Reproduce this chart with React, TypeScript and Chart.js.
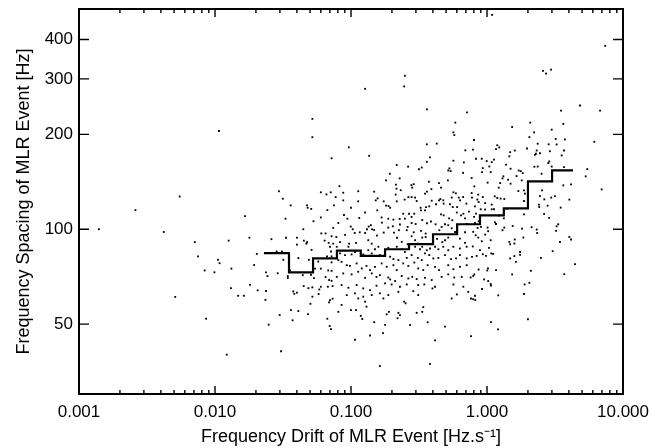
import React, { useEffect, useRef } from "react";
import { Chart, registerables } from "chart.js";

Chart.register(...registerables);

const FONT = "'Liberation Sans', Arial, Helvetica, sans-serif";

// Axis tick values
const xTickValues = [0.001, 0.01, 0.1, 1, 10];
const yTickValues = [50, 100, 200, 300, 400];

// Binned (median) curve: left bin edges + final right edge, and bin values
const binEdges = [0.0229, 0.035, 0.0526, 0.0788, 0.118, 0.178, 0.267, 0.401, 0.603, 0.888, 1.33, 2.0, 3.01, 4.29];
const binMedians = [84, 73, 80.8, 85.5, 82.3, 86.4, 89.7, 96.4, 103.7, 110.7, 116.5, 141.9, 153.7];

// Individual MLR events: [frequency drift (Hz/s), frequency spacing (Hz)]
const outlierEvents: [number, number][] = [
  [0.0014, 100], [0.0026, 115], [0.0042, 98], [0.0051, 61], [0.0055, 127], [0.0071, 91], [0.0075, 82],
  [1.09, 479], [7.4, 382], [2.58, 318], [2.72, 312], [2.96, 321], [0.249, 307], [0.246, 284], [0.127, 279],
  [0.362, 240], [0.713, 235], [3.5, 238], [4.83, 247], [6.78, 238],
];

const lowDriftEvents: [number, number][] = [
  [0.0107, 205], [0.052, 224], [0.052, 196], [0.072, 168], [0.0295, 132], [0.0315, 125], [0.06, 131], [0.066, 129], [0.071, 131], [0.036, 119],
  [0.0475, 119], [0.048, 117], [0.051, 116], [0.075, 119], [0.067, 115], [0.0166, 110], [0.033, 108], [0.053, 106], [0.06, 109], [0.0446, 100],
  [0.074, 101], [0.0179, 94], [0.0126, 92], [0.026, 93], [0.0333, 94], [0.04, 94], [0.045, 92], [0.0475, 91], [0.0605, 97], [0.065, 97],
  [0.072, 95], [0.064, 92], [0.0685, 90.5], [0.074, 90], [0.04, 89.4], [0.047, 90], [0.0203, 83.5], [0.0284, 85], [0.031, 85],
  [0.0513, 86], [0.07, 88], [0.0713, 85], [0.0667, 82], [0.072, 82], [0.0105, 80], [0.0108, 78], [0.0084, 74], [0.0099, 73], [0.0132, 75],
  [0.0194, 77], [0.0318, 80], [0.041, 81], [0.049, 80], [0.0574, 79], [0.072, 78.5], [0.0356, 74], [0.0544, 75], [0.06, 75], [0.068, 74],
  [0.072, 73.8], [0.0237, 73], [0.0243, 71], [0.0289, 72.5], [0.0343, 71], [0.0343, 70], [0.0442, 71.5], [0.0508, 71.7], [0.0534, 70], [0.065, 70.5],
  [0.069, 69], [0.072, 68.6], [0.0131, 65], [0.0181, 66.6], [0.0206, 64], [0.0237, 63.7], [0.0449, 66], [0.0486, 65], [0.052, 65.4], [0.0585, 64.4],
  [0.06, 65.7], [0.0676, 65.7], [0.0732, 66], [0.0148, 61.5], [0.0163, 61.5], [0.0376, 63.5], [0.0383, 62.4], [0.04, 62.9], [0.052, 61.1], [0.0578, 62.3],
  [0.0235, 59.7], [0.0689, 58.6], [0.07, 59.5], [0.0732, 60.2], [0.0503, 58], [0.0086, 52], [0.0299, 53.4], [0.0362, 55.4], [0.041, 55], [0.0483, 53.8],
  [0.067, 52], [0.0372, 51.4], [0.0697, 49.3], [0.0713, 48.2], [0.0248, 49.8], [0.0122, 40], [0.0306, 41],
];

const midDriftUpperEvents: [number, number][] = [
  [0.585, 218], [0.566, 203], [0.575, 199], [0.361, 186], [0.427, 187], [0.0964, 182], [0.693, 178], [0.136, 171], [0.381, 169], [0.361, 163.7],
  [0.566, 165], [0.217, 160], [0.263, 158], [0.676, 163], [0.331, 157], [0.316, 155], [0.529, 156], [0.519, 153.6], [0.54, 153], [0.667, 151],
  [0.193, 150], [0.228, 145], [0.181, 143], [0.516, 143], [0.289, 139], [0.278, 138], [0.374, 141.5], [0.214, 138.5], [0.216, 134.5], [0.282, 135.5],
  [0.444, 140], [0.459, 135.5], [0.39, 134], [0.362, 131.6], [0.35, 129.7], [0.0821, 137], [0.113, 132], [0.148, 131.6], [0.0877, 130.6], [0.0877, 123.5],
  [0.113, 122.6], [0.213, 128.8], [0.232, 133], [0.264, 126.5], [0.279, 126.5], [0.296, 126], [0.304, 122.9], [0.248, 124.2], [0.157, 125.3], [0.152, 123.5],
  [0.174, 122.6], [0.181, 118.8], [0.189, 118.5], [0.194, 117], [0.217, 122.6], [0.156, 114.8], [0.127, 113], [0.1, 117],
  [0.0771, 126.5], [0.0941, 108], [0.0888, 111], [0.115, 108.6], [0.0807, 104.7], [0.0995, 102], [0.103, 100], [0.135, 102], [0.14, 103], [0.143, 100],
  [0.148, 99.5], [0.131, 100], [0.127, 97.3], [0.116, 97.8], [0.1065, 97.3], [0.0904, 96], [0.078, 94.5], [0.083, 91], [0.0969, 90], [0.109, 90.5],
  [0.168, 109], [0.188, 108], [0.205, 107.3], [0.169, 105], [0.228, 107.8], [0.242, 112], [0.249, 108], [0.267, 112], [0.279, 109.4], [0.292, 112],
  [0.325, 117], [0.356, 117.6], [0.327, 114.8], [0.35, 114.8], [0.376, 118.2], [0.392, 123.2], [0.422, 120], [0.444, 123.5], [0.454, 124.7], [0.477, 123.5],
  [0.48, 120.6], [0.566, 131], [0.59, 130], [0.62, 126], [0.55, 126], [0.634, 123.5], [0.667, 126.5], [0.705, 120.6],
  [0.534, 120], [0.56, 117.6], [0.603, 117.6], [0.6, 113], [0.67, 112], [0.737, 113.8], [0.644, 110.7], [0.689, 108.3], [0.709, 104], [0.526, 108.3],
  [0.556, 106.8], [0.459, 111.5], [0.48, 110.7], [0.491, 103.7], [0.519, 103], [0.419, 103.7], [0.387, 105.8], [0.362, 104.5], [0.334, 107], [0.299, 103.9],
  [0.279, 104.7], [0.261, 101.7], [0.229, 103.5], [0.203, 102.2], [0.188, 101.2], [0.174, 97.6], [0.155, 95.5], [0.207, 97.6], [0.225, 99.3], [0.257, 99.3],
  [0.289, 97.8], [0.327, 98.8], [0.354, 96.9], [0.446, 99.3], [0.464, 101.7], [0.55, 100.7], [0.582, 98], [0.689, 97.8],
  [0.218, 94], [0.279, 95], [0.296, 92.3], [0.334, 94.1], [0.354, 94.5], [0.429, 93.2], [0.469, 91], [0.491, 92.3], [0.519, 94.1], [0.632, 93.4],
  [0.689, 90.5], [0.134, 92.3], [0.142, 90], [0.236, 91.2], [0.261, 89.6], [0.312, 90],
];

const midDriftLowerEvents: [number, number][] = [
  [0.0786, 88], [0.0957, 88], [0.134, 85.8], [0.15, 86.4], [0.159, 88], [0.188, 87.3], [0.217, 88], [0.236, 86.4], [0.249, 84.7], [0.296, 88],
  [0.322, 86.4], [0.334, 88], [0.361, 85.8], [0.381, 86.9], [0.415, 88], [0.439, 86.4], [0.477, 88], [0.519, 85.8], [0.566, 88], [0.632, 86.9],
  [0.709, 88], [0.083, 83.8], [0.0904, 82.8], [0.101, 83.2], [0.107, 84.7], [0.123, 83.2], [0.142, 83.8], [0.163, 82.8], [0.194, 81.8], [0.205, 80.4],
  [0.223, 79.8], [0.257, 81.1], [0.279, 82.8], [0.31, 81.1], [0.331, 79.8], [0.35, 83.8], [0.376, 82.8], [0.403, 80.8], [0.439, 81.1], [0.491, 82.8],
  [0.544, 80.4], [0.592, 80.8], [0.632, 82.8], [0.709, 80.8], [0.0807, 79.8], [0.0853, 78.8], [0.0931, 76.9], [0.0982, 76.5], [0.11, 77.9], [0.12, 75.1],
  [0.13, 76.5], [0.138, 74.2], [0.15, 76], [0.168, 77.9], [0.183, 76], [0.205, 76.9], [0.217, 74.2], [0.242, 77.9], [0.264, 76.5], [0.292, 78.4],
  [0.312, 75.1], [0.34, 74.2], [0.366, 76.9], [0.415, 76], [0.444, 74.2], [0.519, 76.9], [0.566, 74.7], [0.632, 76], [0.709, 76.9], [0.0786, 70.6],
  [0.0877, 72.4], [0.101, 71.9], [0.113, 73.3], [0.127, 70.1], [0.142, 72.4], [0.154, 70.6], [0.163, 71.5], [0.188, 70.3], [0.194, 69.3], [0.211, 68.5],
  [0.236, 71.1], [0.264, 69.8], [0.282, 70.6], [0.304, 69.5], [0.35, 70.1], [0.392, 69], [0.464, 70.6], [0.519, 71.9], [0.574, 70.3], [0.652, 70.6],
  [0.0853, 66.5], [0.0957, 65.2], [0.11, 66.5], [0.123, 64.9], [0.138, 64.1], [0.154, 66.2], [0.178, 67.3], [0.199, 66.8], [0.229, 65.7], [0.257, 66.8],
  [0.287, 63.6], [0.312, 66.5], [0.346, 66.8], [0.397, 64.9], [0.415, 65.7], [0.566, 66.8], [0.67, 65.7], [0.0931, 61.8], [0.107, 62.6], [0.123, 61.1],
  [0.142, 61.8], [0.163, 62.6], [0.173, 60.3], [0.188, 61.8], [0.223, 63.3], [0.312, 61.8], [0.6, 62.1], [0.728, 63.3], [0.55, 60.3],
  [0.113, 60.3], [0.127, 58.9], [0.0853, 57.5], [0.13, 56.8], [0.246, 58.9], [0.252, 58.2], [0.0807, 54.7], [0.1, 55.4], [0.109, 55.4], [0.183, 53.7],
  [0.19, 54.7], [0.223, 54.3], [0.229, 53.4], [0.304, 54.3], [0.334, 54.7], [0.34, 56.6], [0.118, 53.1], [0.121, 51.9], [0.22, 52.2], [0.148, 50.7],
  [0.178, 49.7], [0.272, 49.7], [0.366, 50.7], [0.491, 49.1], [0.172, 46.8], [0.138, 46], [0.107, 44.6], [0.415, 44.4], [0.163, 36.8], [0.381, 37.4],
];

const highDriftEvents: [number, number][] = [
  [2.08, 218], [3.64, 216], [1.53, 211], [2.99, 207], [2.22, 203], [0.803, 192], [2.05, 196], [3.2, 193.5], [3.74, 192.7], [6.15, 189.5],
  [2.36, 186.8], [2.84, 186], [3.25, 185.8], [1.19, 184.7], [1.23, 181.8], [1.165, 179.5], [0.788, 179], [1.6, 177.8], [1.97, 180.4], [2.32, 177.8],
  [2.29, 173.6], [2.45, 174.3], [2.9, 176.8], [1.48, 175.6], [3.68, 177.8], [1.46, 170.4], [2.25, 172.3], [3.54, 171.5], [0.83, 167.4], [0.915, 167.4],
  [0.995, 164.5], [1.083, 163.3], [1.126, 166.3], [2.87, 164.1], [2.82, 162.1], [1.38, 160.3], [1.49, 155.6], [2.23, 157.9], [2.36, 158.1], [2.99, 158.1],
  [3.68, 157.4], [5.46, 155.2], [0.931, 156.3], [1.04, 158.2], [0.92, 151.8], [1.065, 151.8], [1.71, 153.6], [1.77, 152.9], [1.83, 150.7], [2.52, 150],
  [0.771, 145.4], [1.32, 147.2], [1.3, 145], [1.43, 143.6], [1.65, 147.5], [1.8, 142.9], [5.32, 147.2], [1.01, 140.6], [1.25, 140.1], [1.49, 139.5],
  [4.15, 138.8], [0.807, 136.8], [1.22, 135.5], [3.64, 137.8], [6.97, 133.8], [1.7, 132.2], [1.87, 132.8], [2.54, 132.8], [0.771, 130.3], [0.862, 128.8],
  [1.9, 129.7], [2.45, 127.4], [3.16, 127.4], [1.14, 127.2], [1.19, 125.6], [1.26, 125.1], [1.34, 124.7], [2.64, 124.4], [2.97, 126], [4.03, 124.2],
  [0.776, 126], [0.849, 124.2], [0.931, 126.5], [1.87, 122.9], [0.868, 122], [0.969, 121], [1.083, 119.7], [2.41, 119.7], [2.42, 117.6], [2.79, 118.8],
  [3.48, 117.1], [0.816, 118.2], [0.899, 115.7], [0.969, 115.5], [1.083, 115.7], [1.126, 115.7], [1.4, 116.2], [0.83, 112.1], [0.803, 109.4], [1.22, 110.5],
  [1.33, 108.3], [1.87, 111.5], [2.63, 111.8], [2.86, 108.6], [0.868, 106], [0.816, 104.7], [1.145, 105.2], [1.165, 103.9], [1.34, 101.2], [1.545, 102.4],
  [2.13, 101.5], [3.34, 103.7], [3.25, 102.2], [0.904, 101.7], [0.853, 101], [1.01, 101.2], [0.792, 98.1], [1.02, 98.6], [1.3, 99.3], [1.81, 100.5],
  [2.32, 99.8], [2.34, 97.3], [3.22, 98.8], [0.825, 95.7], [0.862, 94.1], [0.969, 96.2], [1.85, 94.1], [4.03, 94.5], [4.15, 92.8], [0.915, 91.6],
  [1.065, 92.3], [1.46, 91.2], [1.6, 92.8], [1.48, 89.6], [1.59, 90.1], [3.44, 91.1],
  [0.786, 88.2], [0.888, 85.8], [1.034, 87.3], [1.076, 83.8], [1.11, 83.5], [0.931, 83.3], [0.84, 82.3], [0.776, 81.7], [0.982, 82.3], [1.75, 84.7],
  [1.75, 82.9], [1.59, 82.2], [1.48, 80.8], [1.63, 78.8], [3.04, 85.2], [2.49, 81.1], [4.44, 77.5], [0.868, 74.5], [1.017, 75.1], [1.005, 74],
  [1.165, 74.2], [2.1, 73.8], [1.53, 71.9], [3.7, 72], [0.807, 71.9], [0.792, 71.1], [0.758, 70.3], [0.952, 69.3], [1.02, 68.5], [1.065, 67],
  [1.07, 66.2], [1.89, 66.8], [2.05, 67.6], [0.92, 64.6], [1.21, 61.7], [1.87, 62.3], [0.816, 61.5], [0.763, 60.3], [0.792, 60], [0.82, 59.6],
  [1.07, 50.7], [2.0, 51.8], [1.205, 48.1], [0.763, 45.8],
];

const allEvents = [...outlierEvents, ...lowDriftEvents, ...midDriftUpperEvents, ...midDriftLowerEvents, ...highDriftEvents];

const framePlugin = {
  id: "idlFrame",
  afterDatasetsDraw(chart: any) {
    const { ctx, chartArea: a, scales } = chart;
    const xs = scales.x;
    const ys = scales.y;
    ctx.save();
    ctx.strokeStyle = "#000";
    ctx.lineWidth = 1.4;
    ctx.beginPath();
    for (let d = -3; d <= 0; d++) {
      for (let m = 1; m <= 9; m++) {
        const v = m * Math.pow(10, d);
        const px = xs.getPixelForValue(v);
        const len = m === 1 ? 8 : 4;
        ctx.moveTo(px, a.bottom);
        ctx.lineTo(px, a.bottom - len);
        ctx.moveTo(px, a.top);
        ctx.lineTo(px, a.top + len);
      }
    }
    for (const v of yTickValues) {
      const py = ys.getPixelForValue(v);
      ctx.moveTo(a.left, py);
      ctx.lineTo(a.left + 10, py);
      ctx.moveTo(a.right, py);
      ctx.lineTo(a.right - 10, py);
    }
    ctx.stroke();
    ctx.lineWidth = 2;
    ctx.strokeRect(a.left, a.top, a.right - a.left, a.bottom - a.top);
    ctx.restore();
  },
};

export default function App() {
  const canvasRef = useRef<HTMLCanvasElement | null>(null);

  useEffect(() => {
    if (!canvasRef.current) return;
    const stepData = binEdges.map((x, i) => ({ x, y: binMedians[Math.min(i, binMedians.length - 1)] }));
    const chart = new Chart(canvasRef.current, {
      type: "scatter",
      data: {
        datasets: [
          {
            type: "line",
            data: stepData,
            stepped: true,
            borderColor: "#000",
            borderWidth: 2.2,
            pointRadius: 0,
            fill: false,
            order: 0,
          } as any,
          {
            type: "scatter",
            data: allEvents.map(([x, y]) => ({ x, y })),
            pointStyle: "rect",
            pointRadius: 1.3,
            backgroundColor: "#000",
            borderWidth: 0,
            order: 1,
          } as any,
        ],
      },
      options: {
        responsive: false,
        animation: false,
        events: [],
        layout: { padding: { left: 0, right: 29, top: 9, bottom: 0 } },
        plugins: { legend: { display: false }, tooltip: { enabled: false } },
        scales: {
          x: {
            type: "logarithmic",
            position: "bottom",
            min: 0.001,
            max: 10,
            afterBuildTicks: (s: any) => {
              s.ticks = xTickValues.map((v) => ({ value: v }));
            },
            afterFit: (s: any) => {
              s.height = 54;
              s.paddingLeft = 0;
              s.paddingRight = 0;
              s.paddingTop = 0;
              s.paddingBottom = 0;
            },
            grid: { display: false, drawTicks: false },
            border: { display: false },
            ticks: {
              autoSkip: false,
              maxRotation: 0,
              padding: 8,
              color: "#000",
              font: { family: FONT, size: 17 },
              callback: (v: any) => Number(v).toFixed(3),
            },
            title: {
              display: true,
              text: "Frequency Drift of MLR Event [Hz.s\u207B\u00B9]",
              color: "#000",
              font: { family: FONT, size: 18 },
              padding: { top: 0, bottom: 0 },
            },
          },
          y: {
            type: "logarithmic",
            position: "left",
            min: 30,
            max: 500,
            afterBuildTicks: (s: any) => {
              s.ticks = yTickValues.map((v) => ({ value: v }));
            },
            afterFit: (s: any) => {
              s.width = 79;
              s.paddingLeft = 0;
              s.paddingRight = 0;
              s.paddingTop = 0;
              s.paddingBottom = 0;
            },
            grid: { display: false, drawTicks: false },
            border: { display: false },
            ticks: {
              autoSkip: false,
              padding: 6,
              color: "#000",
              font: { family: FONT, size: 17 },
              callback: (v: any) => String(v),
            },
            title: {
              display: true,
              text: "Frequency Spacing of MLR Event [Hz]",
              color: "#000",
              font: { family: FONT, size: 18 },
              padding: { top: 13, bottom: 0 },
            },
          },
        },
      } as any,
      plugins: [framePlugin],
    });
    return () => chart.destroy();
  }, []);

  return (
    <div style={{ position: "absolute", left: 0, top: 0, width: 652, height: 448, background: "#fff" }}>
      <canvas ref={canvasRef} width={652} height={448} />
    </div>
  );
}
